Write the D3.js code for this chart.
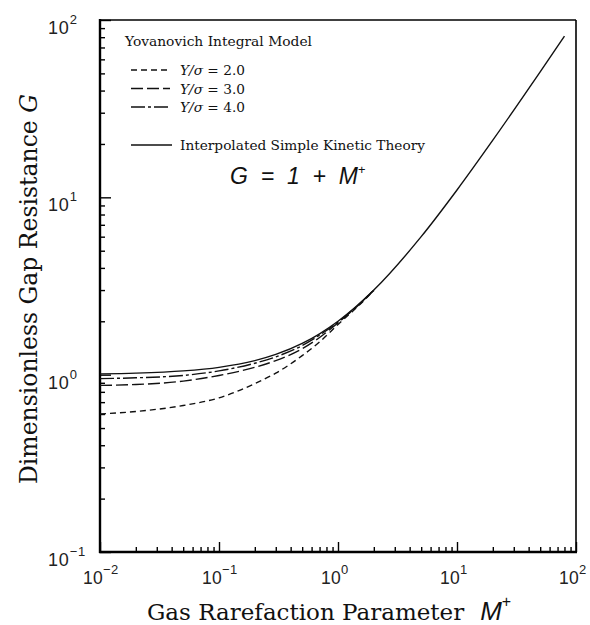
<!DOCTYPE html>
<html>
<head>
<meta charset="utf-8">
<script src="https://cdn.jsdelivr.net/npm/d3@7"></script>
<style>
  body { margin: 0; background: #fff; }
  svg { display: block; }
</style>
</head>
<body>
<svg width="590" height="625"></svg>
<script>
// data
var mPlus   = [0.01, 0.02, 0.05, 0.1, 0.2, 0.3, 0.5, 0.7, 1.0, 1.5, 2.0];
var gY2     = [0.60, 0.62, 0.67, 0.74, 0.89, 1.02, 1.28, 1.53, 1.92, 2.46, 2.98];
var gY3     = [0.87, 0.88, 0.92, 0.99, 1.10, 1.20, 1.40, 1.62, 1.96, 2.48, 2.99];
var gY4     = [0.95, 0.96, 0.99, 1.05, 1.16, 1.26, 1.46, 1.67, 1.98, 2.49, 3.00];
// interpolated simple kinetic theory G = 1 + M+
var mKin    = [0.01, 0.02, 0.05, 0.1, 0.2, 0.3, 0.5, 0.7, 1.0, 2.0, 5.0, 10, 20, 50, 80];
var gKin    = [1.01, 1.02, 1.05, 1.1, 1.2, 1.3, 1.5, 1.7, 2.0, 3.0, 6.0, 11, 21, 51, 81];

var xMajor = [-2, -1, 0, 1, 2];
var yMajor = [-1, 0, 1, 2];

var legendItems = [
  {label: '2.0', dash: '6,4'},
  {label: '3.0', dash: '12,4'},
  {label: '4.0', dash: '14,3,3,3'}
];

var svg = d3.select('svg');
var L = 100, R = 576, T = 20, B = 552;

var x = d3.scaleLog().domain([0.01, 100]).range([L, R]);
var y = d3.scaleLog().domain([0.1, 100]).range([B, T]);

// minor tick values
var xMinor = [], yMinor = [];
for (var e = -2; e < 2; e++) for (var k = 2; k < 10; k++) xMinor.push(k * Math.pow(10, e));
for (var e = -1; e < 2; e++) for (var k = 2; k < 10; k++) yMinor.push(k * Math.pow(10, e));

function styleAxis(g) {
  g.select('.domain').remove();
  g.selectAll('line').attr('stroke', '#000').attr('stroke-width', 1.4);
  g.selectAll('text').remove();
}

svg.append('g').attr('transform', `translate(0,${B})`)
  .call(d3.axisBottom(x).tickValues(xMinor).tickSize(-5).tickFormat(''))
  .call(styleAxis);
svg.append('g').attr('transform', `translate(0,${B})`)
  .call(d3.axisBottom(x).tickValues(xMajor.map(d => Math.pow(10, d))).tickSize(-10).tickFormat(''))
  .call(styleAxis);
svg.append('g').attr('transform', `translate(${L},0)`)
  .call(d3.axisLeft(y).tickValues(yMinor).tickSize(-5).tickFormat(''))
  .call(styleAxis);
svg.append('g').attr('transform', `translate(${L},0)`)
  .call(d3.axisLeft(y).tickValues(yMajor.map(d => Math.pow(10, d))).tickSize(-11).tickFormat(''))
  .call(styleAxis);

// frame
svg.append('line').attr('x1', L).attr('x2', R).attr('y1', T).attr('y2', T).attr('stroke', '#000').attr('stroke-width', 1.4);
svg.append('line').attr('x1', R).attr('x2', R).attr('y1', T).attr('y2', B).attr('stroke', '#000').attr('stroke-width', 1.6);
svg.append('line').attr('x1', L).attr('x2', L).attr('y1', T - 1).attr('y2', B + 1).attr('stroke', '#000').attr('stroke-width', 2.4);
svg.append('line').attr('x1', L - 1).attr('x2', R + 1).attr('y1', B).attr('y2', B).attr('stroke', '#000').attr('stroke-width', 2.4);

// tick labels, 10 with superscript
var tickFont = "'Liberation Sans', Arial, sans-serif";
function powLabel(sel, e) {
  sel.append('tspan').text('10');
  sel.append('tspan').attr('dy', -10).attr('font-size', 13).text(e < 0 ? '\u2212' + (-e) : e);
}
xMajor.forEach(function(e) {
  var t = svg.append('text').attr('x', x(Math.pow(10, e)) - 17).attr('y', B + 32)
    .attr('font-family', tickFont).attr('font-size', 17.5)
    .attr('letter-spacing', 0.3).attr('fill', '#222');
  powLabel(t, e);
});
yMajor.forEach(function(e) {
  var t = svg.append('text').attr('x', 48).attr('y', y(Math.pow(10, e)) + 14)
    .attr('font-family', tickFont).attr('font-size', 18)
    .attr('letter-spacing', 0.8).attr('fill', '#222');
  powLabel(t, e);
});

// curves
var line = d3.line().x(d => x(d[0])).y(d => y(d[1])).curve(d3.curveMonotoneX);
var series = [
  {g: gY2, dash: '6,4'},
  {g: gY3, dash: '12,4'},
  {g: gY4, dash: '14,3,3,3'}
];
series.forEach(function(s) {
  svg.append('path').datum(mPlus.map((m, i) => [m, s.g[i]]))
    .attr('d', line).attr('fill', 'none').attr('stroke', '#111')
    .attr('stroke-width', 1.4).attr('stroke-dasharray', s.dash);
});
svg.append('path').datum(mKin.map((m, i) => [m, gKin[i]]))
  .attr('d', line).attr('fill', 'none').attr('stroke', '#111').attr('stroke-width', 1.4);

// legend
var serif = "'DejaVu Serif', 'Liberation Serif', serif";
svg.append('text').attr('x', 125).attr('y', 46).attr('font-family', serif)
  .attr('font-size', 13.8).attr('fill', '#111').text('Yovanovich Integral Model');
legendItems.forEach(function(d, i) {
  var yy = 70 + i * 18.5;
  svg.append('line').attr('x1', 131).attr('x2', 170).attr('y1', yy).attr('y2', yy)
    .attr('stroke', '#111').attr('stroke-width', 1.3).attr('stroke-dasharray', d.dash);
  var t = svg.append('text').attr('x', 180).attr('y', yy + 5).attr('font-family', serif)
    .attr('font-size', 13.7).attr('fill', '#111');
  t.append('tspan').attr('font-style', 'italic').text('Y/\u03C3');
  t.append('tspan').text(' = ' + d.label);
});
svg.append('line').attr('x1', 131).attr('x2', 172).attr('y1', 145).attr('y2', 145)
  .attr('stroke', '#111').attr('stroke-width', 1.3);
svg.append('text').attr('x', 180).attr('y', 150).attr('font-family', serif)
  .attr('font-size', 13.7).attr('fill', '#111').text('Interpolated Simple Kinetic Theory');

var eq = svg.append('text').attr('x', 230).attr('y', 184)
  .attr('font-family', "'Liberation Sans', Arial, sans-serif").attr('font-size', 23)
  .attr('font-style', 'italic').attr('fill', '#111').attr('xml:space', 'preserve');
eq.append('tspan').text('G  =  1  +  M');
eq.append('tspan').attr('dy', -10).attr('font-size', 13).text('+');

// axis titles
svg.append('text').attr('transform', 'translate(37,289) rotate(-90)')
  .attr('text-anchor', 'middle').attr('font-family', serif).attr('font-size', 23.5).attr('fill', '#111')
  .call(function(t) {
    t.append('tspan').text('Dimensionless Gap Resistance  ');
    t.append('tspan').attr('font-style', 'italic').text('G');
  });

var xt = svg.append('text').attr('x', 147).attr('y', 620).attr('font-family', serif)
  .attr('font-size', 23).attr('fill', '#111');
xt.append('tspan').text('Gas Rarefaction Parameter');
xt.append('tspan').attr('dx', 16).attr('font-family', "'Liberation Sans', Arial, sans-serif")
  .attr('font-style', 'italic').attr('font-size', 26).text('M');
xt.append('tspan').attr('dy', -13).attr('font-family', "'Liberation Sans', Arial, sans-serif")
  .attr('font-size', 16).text('+');
</script>
</body>
</html>
